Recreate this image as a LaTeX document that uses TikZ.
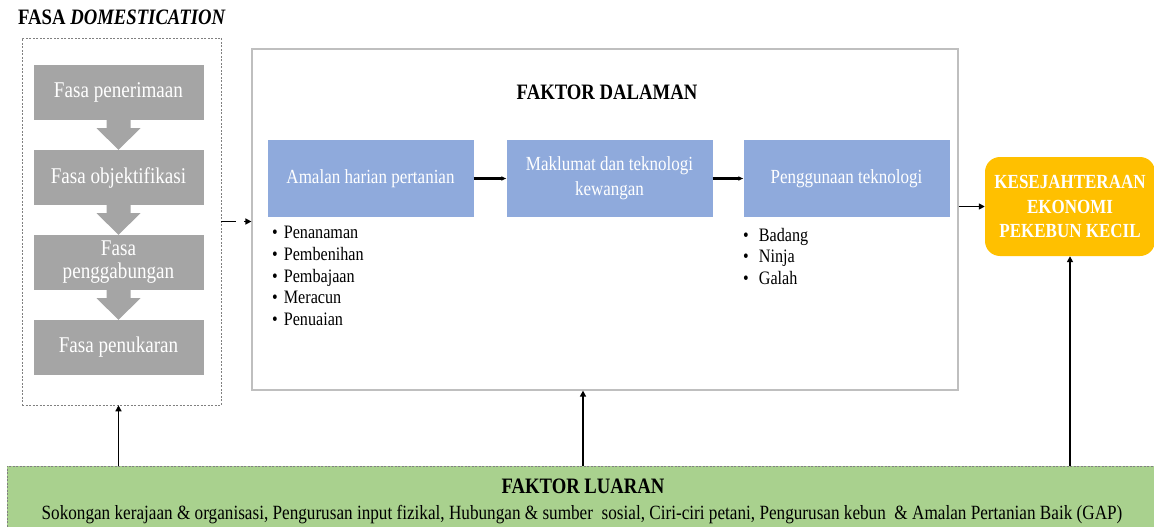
\documentclass[tikz,border=0pt]{standalone}
\usepackage{fontspec}
\setmainfont{Liberation Serif}[FakeStretch=0.85]
\usetikzlibrary{calc,arrows.meta}
\definecolor{fasagray}{HTML}{A5A5A5}
\definecolor{dalamblue}{HTML}{8FAADC}
\definecolor{hasilorange}{HTML}{FFC000}
\definecolor{luargreen}{HTML}{A9D18E}
\definecolor{framegray}{HTML}{BFBFBF}

\begin{document}
\begin{tikzpicture}[x=1pt,y=-1pt,
    fasabox/.style={fill=fasagray,text=white,minimum width=170pt,minimum height=55pt,
      inner sep=0pt,align=center,font=\rmfamily\fontsize{22.5}{23}\selectfont},
    dalambox/.style={fill=dalamblue,text=white,minimum width=206pt,minimum height=77pt,
      inner sep=0pt,align=center,font=\rmfamily\fontsize{20}{25}\selectfont},
    heading/.style={font=\rmfamily\fontsize{22}{24}\selectfont\bfseries,inner sep=0pt},
    bullets/.style={anchor=north west,inner sep=0pt,align=left},
    flowarrow/.style={line width=1.5pt,-{Triangle[length=6pt,width=6pt]}},
    fatarrow/.style={line width=2.6pt,-{Triangle[length=5pt,width=4pt]}}]
    \useasboundingbox (0,0) rectangle (1154,527);
            %\draw[red] (0,0) rectangle (1154,527);
            \node[heading,anchor=west] (fasatitle) at (18,17) {FASA \textit{DOMESTICATION}};
            \node[draw=gray,dash pattern=on 2pt off 1.5pt,line width=.6pt,minimum width=199pt,
              minimum height=367pt,inner sep=0pt] (dom) at (121.5,221.5) {};
            \node[fasabox] (f1) at (118.5,92.5) {Fasa penerimaan};
            \node[fasabox] (f2) at (118.5,177.5) {Fasa objektifikasi};
            \node[fasabox] (f3) at (118.5,262.5) {Fasa\\penggabungan};
            \node[fasabox] (f4) at (118.5,347.5) {Fasa penukaran};
            \foreach \a/\b in {f1/f2,f2/f3,f3/f4}
              \fill[fasagray] ($(\a.south)+(-12,0)$) -- ($(\a.south)+(12,0)$) -- ($(\a.south)+(12,8)$)
                -- ($(\a.south)+(22,8)$) -- (\b.north) -- ($(\a.south)+(-22,8)$)
                -- ($(\a.south)+(-12,8)$) -- cycle;
            \node[draw=framegray,line width=1.2pt,minimum width=706pt,minimum height=341pt,
              inner sep=0pt] (dalam) at (605,219.5) {};
            \node[heading] (dalamtitle) at (607,92) {FAKTOR DALAMAN};
            \node[dalambox] (amalan) at (370.5,178.5) {Amalan harian pertanian};
            \node[dalambox] (maklumat) at (609.5,178.5) {Maklumat dan teknologi\\kewangan};
            \node[dalambox] (guna) at (846.5,178.5) {Penggunaan teknologi};
            \draw[fatarrow] (amalan) -- (maklumat);
            \draw[fatarrow] (maklumat) -- (guna);
            \node[bullets,font=\rmfamily\fontsize{19}{21.7}\selectfont] (amalanlist) at (272,226)
              {\textbullet\hspace{6pt}Penanaman\\ \textbullet\hspace{6pt}Pembenihan\\
               \textbullet\hspace{6pt}Pembajaan\\ \textbullet\hspace{6pt}Meracun\\
               \textbullet\hspace{6pt}Penuaian};
            \node[bullets,font=\rmfamily\fontsize{19}{21.5}\selectfont] (gunalist) at (743,228)
              {\textbullet\hspace{10pt}Badang\\ \textbullet\hspace{10pt}Ninja\\
               \textbullet\hspace{10pt}Galah};
            \node[fill=hasilorange,rounded corners=15pt,minimum width=170pt,minimum height=99pt,
              inner sep=0pt,align=center,text=white,font=\rmfamily\fontsize{20}{24.5}\selectfont\bfseries]
              (hasil) at (1070,206.5) {KESEJAHTERAAN\\EKONOMI\\PEKEBUN KECIL};
            \draw[flowarrow,dash pattern=on 15pt off 8pt] (dom.east) -- (dom.east -| dalam.west);
            \draw[flowarrow] (dalam.east |- hasil.west) -- (hasil.west);
            \node[fill=luargreen,draw=gray,dash pattern=on 2pt off 1.5pt,line width=.6pt,
              minimum width=1152pt,minimum height=70pt,inner sep=0pt] (luar) at (583,501) {};
            \node[heading] (luartitle) at (583,486) {FAKTOR LUARAN};
            \node[font=\rmfamily\fontsize{20.2}{22}\selectfont,inner sep=0pt] (luartext) at (582,515)
              {Sokongan kerajaan \& organisasi, Pengurusan input fizikal, Hubungan \& sumber\ \ sosial,
               Ciri-ciri petani, Pengurusan kebun\ \ \& Amalan Pertanian Baik (GAP)};
            \draw[flowarrow] (f4.south |- luar.north) -- (f4.south |- dom.south);
            \draw[flowarrow] (luartitle |- luar.north) -- (luartitle |- dalam.south);
            \draw[flowarrow] (hasil.south |- luar.north) -- (hasil.south);
        \end{tikzpicture}
\end{document}
